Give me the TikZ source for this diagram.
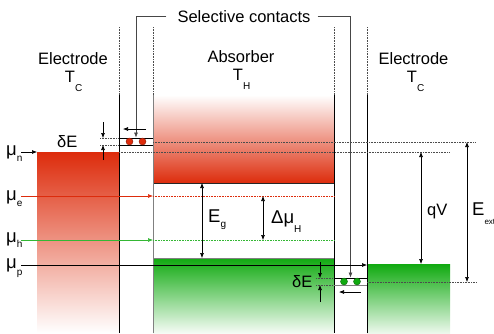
\documentclass[tikz,border=0pt]{standalone}
\usepackage{fontspec}
\setmainfont{Liberation Sans}
\usepackage{xcolor}
\usepackage{tikz}
\usetikzlibrary{arrows.meta}

\definecolor{hotred}{RGB}{221,44,12}
\definecolor{coolgreen}{RGB}{16,170,16}
\newcommand{\lowsub}[3][8pt]{\raisebox{-#1}{\fontsize{#2}{#2}\selectfont #3}}

\begin{document}
\begin{tikzpicture}[x=1pt, y=-1pt,
  wall/.style={line width=0.8pt},
  lvl/.style={densely dotted, line width=0.6pt, gray!60!black},
  onearrow/.style={-{Latex[length=5pt,width=4pt]}, line width=0.6pt},
  dimarrow/.style={{Latex[length=5pt,width=4pt]}-{Latex[length=5pt,width=4pt]}, line width=0.6pt},
  bracket/.style={gray!55!black, line width=0.7pt},
  headtext/.style={font=\fontsize{16.5}{18}\selectfont, inner sep=0pt},
  symtext/.style={font=\fontsize{18.5}{20}\selectfont, inner sep=0pt},
  contact/.style={circle, draw=#1!60!black, fill=#1, minimum size=7pt, inner sep=0pt}]
\def\ytop{27}
\def\yfade{95}
\def\ybot{333}
\useasboundingbox (0,0) rectangle (494,333);

% LEFT ELECTRODE
\shade[top color=hotred, bottom color=white] (37,152) rectangle (119,\ybot);

% ABSORBER
\shade[top color=white, bottom color=hotred] (153,\yfade) rectangle (334,183);
\shade[top color=coolgreen, bottom color=coolgreen!4] (153,258) rectangle (334,\ybot);
\draw[line width=0.8pt, gray!30!black] (153,183) -- (334,183);
\draw[line width=1pt, gray] (153,258) -- (334,258);

% RIGHT ELECTRODE
\shade[top color=coolgreen, bottom color=coolgreen!8] (367,264) rectangle (450,\ybot);

% WALLS
\foreach \x in {119,153,334,367}
  \draw[lvl] (\x,\ytop) -- (\x,\yfade);
\draw[wall] (119,\yfade) -- (119,\ybot);
\draw[wall, gray] (153,\yfade) -- (153,\ybot);
\draw[wall] (334,\yfade) -- (334,\ybot);
\draw[wall] (367,\yfade) -- (367,\ybot);

% LEVELS
\draw[lvl] (100,138) -- (119,138);
\draw[lvl] (100,145) -- (119,145);
\draw[lvl] (153,142) -- (475,142);
\draw[lvl] (119,152) -- (449,152);
\draw[lvl] (316,278) -- (334,278);
\draw[lvl] (316,285) -- (334,285);
\draw[lvl] (367,282) -- (477,282);
\draw[lvl, hotred] (153,196) -- (334,196);
\draw[lvl, coolgreen!85] (153,240) -- (334,240);

% RED CONTACT
\draw[wall] (119,138) -- (153,138);
\draw[wall] (119,145) -- (153,145);
\node[contact=hotred] (red1) at (129.5,141.5) {};
\node[contact=hotred] (red2) at (142.5,141.5) {};
\coordinate (redmid) at (136,141.5);

% GREEN CONTACT
\draw[wall] (334,278) -- (367,278);
\draw[wall, gray, line width=1.3pt] (334,285.5) -- (367,285.5);
\node[contact=coolgreen] (green1) at (344,281.5) {};
\node[contact=coolgreen] (green2) at (357,281.5) {};
\coordinate (greenmid) at (350.5,281.5);

% TITLES
\node[headtext, anchor=base] (sel) at (244,22) {Selective contacts};
\node[headtext, anchor=base] (elecl) at (73,64) {Electrode};
\node[headtext, anchor=base] (tcl) at (73.6,82) {T\lowsub[9pt]{10}{C}};
\node[headtext, anchor=base] (absb) at (241,62) {Absorber};
\node[headtext, anchor=base] (th) at (241.6,80) {T\lowsub[9pt]{10}{H}};
\node[headtext, anchor=base] (elecr) at (413.5,64) {Electrode};
\node[headtext, anchor=base] (tcr) at (415.6,82) {T\lowsub[9pt]{10}{C}};

\draw[bracket, onearrow] ([xshift=-11pt]sel.west) -| ([yshift=4pt]redmid);
\draw[bracket, onearrow] ([xshift=7pt]sel.east) -| ([yshift=4pt]greenmid);
\draw[onearrow] ([shift={(10,-12.5)}]redmid) -- ([shift={(-13,-12.5)}]redmid);
\draw[onearrow] ([shift={(10.5,10.5)}]greenmid) -- ([shift={(-11.5,10.5)}]greenmid);

% CHEMICAL POTENTIALS
\node[symtext, anchor=base west] (mun) at (6,155) {μ\lowsub[6pt]{10}{n}};
\node[symtext, anchor=base west] (mue) at (6,200) {μ\lowsub[6pt]{10}{e}};
\node[symtext, anchor=base west] (muh) at (6,242) {μ\lowsub[5pt]{10}{h}};
\node[symtext, anchor=base west] (mup) at (6,268) {μ\lowsub[7pt]{10}{p}};
\coordinate (n0) at (21,152);
\coordinate (n1) at (37,152);
\coordinate (e0) at (21,196);
\coordinate (e1) at (153,196);
\coordinate (h0) at (21,240);
\coordinate (h1) at (153,240);
\coordinate (p0) at (21,265);
\coordinate (p1) at (367,265);
\draw[onearrow] (n0) -- (n1);
\draw[onearrow, hotred] (e0) -- (e1);
\draw[onearrow, coolgreen!85] (h0) -- (h1);
\draw[onearrow] (p0) -- (p1);

% ENERGIES
\coordinate (gtop) at (202,183);
\coordinate (gbot) at (202,258);
\coordinate (dtop) at (263,196);
\coordinate (dbot) at (263,240);
\coordinate (vtop) at (421,152);
\coordinate (vbot) at (421,264);
\coordinate (xtop) at (467,142);
\coordinate (xbot) at (467,282);
\draw[dimarrow] (gtop) -- (gbot);
\draw[dimarrow] (dtop) -- (dbot);
\draw[dimarrow] (vtop) -- (vbot);
\draw[dimarrow] (xtop) -- (xbot);
\node[symtext, anchor=base west] (eg) at (208,222) {E\lowsub[5pt]{10}{g}};
\node[symtext, anchor=base west] (dmu) at (271,223) {Δμ\lowsub[9pt]{10}{H}};
\node[headtext, anchor=base west] (qv) at (427,215) {qV};
\node[symtext, anchor=base west] (eext) at (472,215) {E\lowsub[9pt]{8}{ext}};

% ENERGY WIDTH OF THE CONTACTS
\coordinate (ra0) at (103,122);
\coordinate (ra1) at (103,138);
\coordinate (rb0) at (103,160);
\coordinate (rb1) at (103,145);
\coordinate (ga0) at (320,262);
\coordinate (ga1) at (320,278);
\coordinate (gb0) at (320,302);
\coordinate (gb1) at (320,285);
\draw[onearrow] (ra0) -- (ra1);
\draw[onearrow] (rb0) -- (rb1);
\draw[onearrow] (ga0) -- (ga1);
\draw[onearrow] (gb0) -- (gb1);
\node[headtext, anchor=base west] (del) at (57,147) {δE};
\node[headtext, anchor=base west] (der) at (292,287) {δE};
\end{tikzpicture}
\end{document}
